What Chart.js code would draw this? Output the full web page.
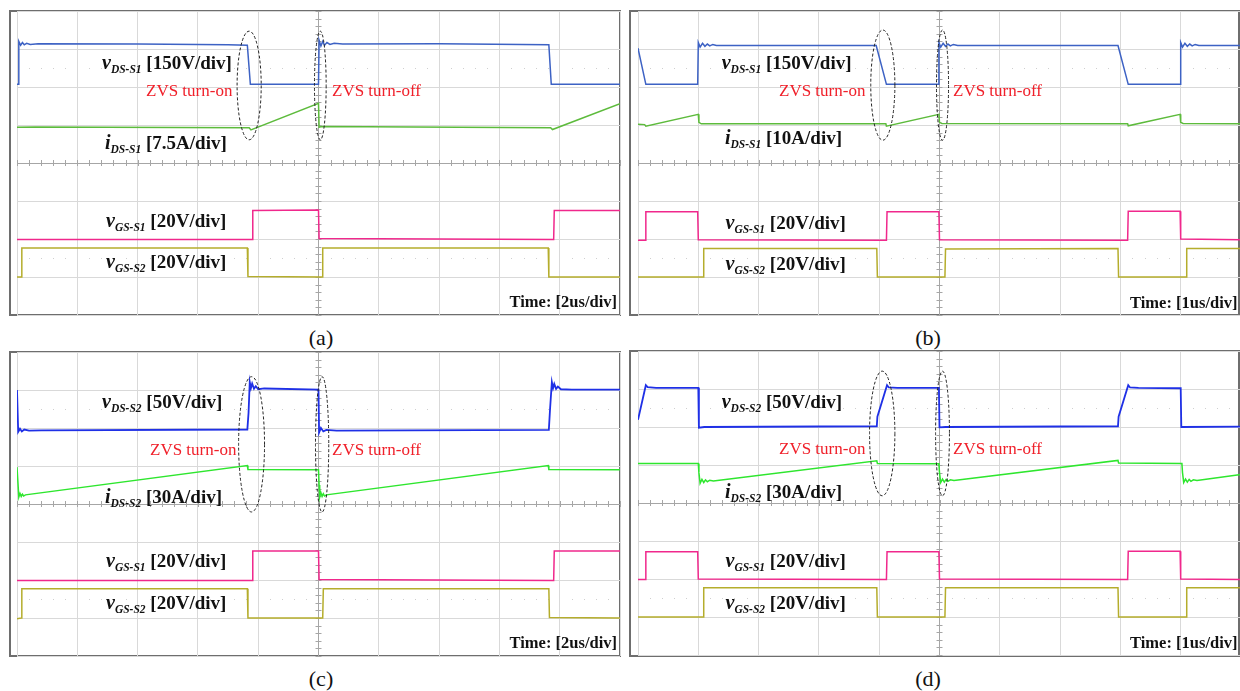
<!DOCTYPE html>
<html>
<head>
<meta charset="utf-8">
<title>ZVS waveforms</title>
<script src="https://cdn.jsdelivr.net/npm/chart.js@4.4.1/dist/chart.umd.min.js"></script>
<style>
html, body { margin: 0; padding: 0; background: #fff; overflow: hidden; }
body { width: 1240px; height: 691px; position: relative; font-family: "Liberation Serif", "Times New Roman", serif; }
.frame { position: absolute; box-sizing: border-box; border: 2px solid #6e6e6e; }
canvas { position: absolute; }
.txt { position: absolute; white-space: nowrap; }
.sig { font-weight: bold; font-size: 19px; line-height: 22px; color: #111; }
.sig i { font-size: 20px; line-height: 0; }
.sig sub { font-size: 11.5px; font-style: italic; line-height: 0; vertical-align: -4px; }
.zvs { font-size: 17px; line-height: 20px; color: #f0202a; }
.time { font-weight: bold; font-size: 16.5px; line-height: 19px; color: #111; }
.cap { font-size: 22px; line-height: 26px; color: #111; }
</style>
</head>
<body>
<script>
// scope screen: 10 x 8 divisions, y counted in divisions from the top
const xDivs = 10;
const yDivs = 8;

const captions = ['(a)', '(b)', '(c)', '(d)'];
const timeBases = ['2us', '1us', '2us', '1us'];

const aNames = [['v', 'DS-S1', '[150V/div]'], ['i', 'DS-S1', '[7.5A/div]'], ['v', 'GS-S1', '[20V/div]'], ['v', 'GS-S2', '[20V/div]']];
const bNames = [['v', 'DS-S1', '[150V/div]'], ['i', 'DS-S1', '[10A/div]'], ['v', 'GS-S1', '[20V/div]'], ['v', 'GS-S2', '[20V/div]']];
const cNames = [['v', 'DS-S2', '[50V/div]'], ['i', 'DS-S2', '[30A/div]'], ['v', 'GS-S1', '[20V/div]'], ['v', 'GS-S2', '[20V/div]']];
const dNames = [['v', 'DS-S2', '[50V/div]'], ['i', 'DS-S2', '[30A/div]'], ['v', 'GS-S1', '[20V/div]'], ['v', 'GS-S2', '[20V/div]']];

// (a) S1, 2us/div
const aVds = [[0, 1.93], [0.02, 1.93], [0.03, 0.80], [0.06, 0.90], [0.09, 0.83], [0.12, 0.89], [0.16, 0.85], [0.22, 0.88], [0.35, 0.86],
    [2.0, 0.87], [3.5, 0.89], [3.82, 0.90], [3.87, 1.93], [5.0, 1.93], [5.01, 0.77], [5.04, 0.92], [5.07, 0.80], [5.10, 0.90],
    [5.14, 0.83], [5.19, 0.88], [5.26, 0.85], [5.4, 0.87], [7.0, 0.86], [8.82, 0.89], [8.86, 1.93], [10, 1.93]];
const aIds = [[0, 3.06], [0.3, 3.05], [3.85, 3.07], [3.88, 3.13], [5.0, 2.43], [5.01, 3.06], [5.05, 3.04], [8.85, 3.07], [8.88, 3.12], [10, 2.44]];
const aVgs1 = [[0, 6.01], [3.9, 6.01], [3.91, 5.25], [5.0, 5.24], [5.01, 5.99], [8.9, 6.01], [8.91, 5.25], [10, 5.25]];
const aVgs2 = [[0, 7.0], [0.07, 7.0], [0.08, 6.24], [3.82, 6.24], [3.83, 6.99], [5.06, 7.0], [5.07, 6.24], [8.81, 6.24], [8.82, 7.0], [10, 7.0]];

// (b) S1, 1us/div
const bVds = [[0, 0.98], [0.13, 1.93], [0.99, 1.93], [1.0, 0.83], [1.03, 0.95], [1.07, 0.85], [1.11, 0.93], [1.15, 0.87], [1.19, 0.92],
    [1.24, 0.88], [1.3, 0.91], [3.95, 0.91], [4.12, 1.93], [4.98, 1.93], [4.99, 0.83], [5.02, 0.95], [5.06, 0.85], [5.1, 0.93],
    [5.14, 0.87], [5.18, 0.92], [5.23, 0.88], [5.3, 0.91], [7.96, 0.91], [8.13, 1.93], [8.99, 1.93], [9.0, 0.83], [9.03, 0.95],
    [9.07, 0.85], [9.11, 0.93], [9.15, 0.87], [9.19, 0.92], [9.24, 0.88], [9.3, 0.91], [10, 0.91]];
const bIds = [[0, 2.98], [0.11, 2.99], [0.13, 3.03], [1.0, 2.72], [1.01, 2.93], [1.05, 2.97], [4.11, 2.97], [4.12, 3.03], [4.99, 2.72],
    [5.0, 2.93], [5.04, 2.96], [8.12, 2.97], [8.13, 3.02], [8.99, 2.72], [9.0, 2.93], [9.04, 2.96], [10, 2.97]];
const bVgs1 = [[0, 6.03], [0.12, 6.03], [0.13, 5.28], [0.99, 5.28], [1.0, 6.02], [4.12, 6.03], [4.13, 5.28], [4.99, 5.28], [5.0, 6.02],
    [8.12, 6.03], [8.13, 5.27], [8.99, 5.27], [9.0, 6.0], [10, 6.02]];
const bVgs2 = [[0, 7.0], [1.08, 7.0], [1.09, 6.25], [3.96, 6.25], [3.97, 7.0], [5.09, 7.0], [5.1, 6.26], [7.96, 6.25], [7.97, 7.0],
    [9.09, 7.0], [9.1, 6.25], [10, 6.25]];

// (c) S2, 2us/div
const cVds = [[0, 1.0], [0.01, 1.0], [0.02, 2.1], [0.05, 2.02], [0.08, 2.09], [0.12, 2.04], [0.2, 2.07], [0.4, 2.06], [3.82, 2.04],
    [3.84, 1.6], [3.86, 0.79], [3.88, 0.95], [3.9, 0.83], [3.93, 0.97], [3.96, 0.9], [4.0, 0.98], [4.1, 0.96], [5.0, 0.99],
    [5.01, 2.12], [5.04, 2.0], [5.08, 2.09], [5.13, 2.05], [5.3, 2.07], [8.82, 2.05], [8.84, 1.5], [8.87, 0.79], [8.89, 0.95],
    [8.91, 0.84], [8.94, 0.97], [8.97, 0.91], [9.02, 0.98], [9.2, 0.99], [10, 0.99]];
const cIds = [[0, 3.03], [0.01, 3.03], [0.03, 3.82], [0.05, 3.72], [0.07, 3.8], [0.09, 3.74], [0.11, 3.79], [0.14, 3.76], [3.82, 2.99],
    [3.83, 3.09], [5.0, 3.1], [5.01, 3.5], [5.02, 3.82], [5.04, 3.7], [5.06, 3.8], [5.08, 3.73], [5.1, 3.79], [5.13, 3.76],
    [8.81, 2.99], [8.82, 3.09], [10, 3.1]];
const cVgs1 = [[0, 6.01], [3.9, 6.01], [3.91, 5.24], [5.0, 5.24], [5.01, 5.99], [8.9, 6.01], [8.91, 5.24], [10, 5.24]];
const cVgs2 = [[0, 7.02], [0.07, 7.0], [0.08, 6.23], [3.82, 6.23], [3.83, 7.0], [5.07, 7.0], [5.08, 6.23], [8.82, 6.23], [8.83, 6.99], [10, 7.0]];

// (d) S2, 1us/div
const dVds = [[0, 1.81], [0.13, 0.9], [0.16, 0.95], [0.3, 0.97], [1.0, 0.97], [1.01, 2.02], [1.1, 2.0], [3.96, 1.98], [3.97, 1.73],
    [4.13, 0.9], [4.16, 0.96], [4.3, 0.97], [4.99, 0.97], [5.0, 2.01], [5.1, 2.0], [7.96, 1.98], [7.97, 1.73], [8.13, 0.9],
    [8.16, 0.96], [8.3, 0.97], [9.0, 0.98], [9.01, 2.0], [10, 1.99]];
const dIds = [[0, 2.96], [1.0, 2.96], [1.01, 3.2], [1.03, 3.48], [1.06, 3.38], [1.09, 3.46], [1.12, 3.39], [1.15, 3.44], [1.19, 3.4],
    [1.25, 3.42], [3.96, 2.89], [3.97, 2.96], [4.99, 2.97], [5.0, 3.2], [5.02, 3.46], [5.05, 3.37], [5.08, 3.45], [5.11, 3.38],
    [5.14, 3.43], [5.18, 3.39], [5.24, 3.41], [7.96, 2.88], [7.97, 2.95], [9.02, 2.96], [9.03, 3.2], [9.05, 3.46], [9.08, 3.37],
    [9.11, 3.45], [9.14, 3.38], [9.17, 3.43], [9.21, 3.39], [9.27, 3.41], [10, 3.25]];
const dVgs1 = [[0, 6.01], [0.12, 6.01], [0.13, 5.28], [0.99, 5.28], [1.0, 6.0], [4.12, 6.01], [4.13, 5.28], [4.99, 5.28], [5.0, 6.0],
    [8.12, 6.01], [8.13, 5.27], [8.99, 5.27], [9.0, 6.0], [10, 6.01]];
const dVgs2 = [[0, 7.0], [1.08, 7.0], [1.09, 6.23], [3.96, 6.23], [3.97, 7.0], [5.09, 7.0], [5.1, 6.23], [7.96, 6.23], [7.97, 7.0],
    [9.09, 7.0], [9.1, 6.23], [10, 6.23]];

const PLOT_W = 603;
const PLOT_H = 304;
const PAD = 2;

const panels = [
    {
        traces: [aVds, aIds, aVgs1, aVgs2], names: aNames,
        colors: ['#3d62c4', '#5dbb3c', '#f0288c', '#b5ad2c'], widths: [1.5, 1.5, 1.5, 1.5],
        plot: [17.3, 11], frame: [9, 10, 612, 306],
        ellipses: [[3.85, 1.96, 0.2, 1.43], [5.03, 1.96, 0.097, 1.43]],
        names_at: [[102, 69], [105, 149], [106, 227], [106, 268]],
        zvs: [[146, 96.5], [332, 96.5]], time: [617, 307.5], cap: [321, 345]
    },
    {
        traces: [bVds, bIds, bVgs1, bVgs2], names: bNames,
        colors: ['#3d62c4', '#5dbb3c', '#f0288c', '#b5ad2c'], widths: [1.5, 1.5, 1.5, 1.5],
        plot: [638.3, 11], frame: [629, 10, 611, 306],
        ellipses: [[4.06, 1.95, 0.2, 1.45], [5.05, 1.95, 0.1, 1.45]],
        names_at: [[721.7, 69.5], [725, 144.5], [725.5, 229], [725.5, 270.5]],
        zvs: [[779, 96.5], [953, 96.5]], time: [1237.5, 308], cap: [928, 345]
    },
    {
        traces: [cVds, cIds, cVgs1, cVgs2], names: cNames,
        colors: ['#1f30e6', '#2ee62e', '#f0288c', '#b5ad2c'], widths: [1.8, 1.5, 1.5, 1.5],
        plot: [17.3, 351.7], frame: [9, 350.7, 612, 306.3],
        ellipses: [[3.89, 2.43, 0.215, 1.78], [5.06, 2.43, 0.11, 1.78]],
        names_at: [[102, 408.5], [105, 503.5], [106, 567.5], [106, 609]],
        zvs: [[150, 455.5], [332, 455.5]], time: [617, 648], cap: [321, 686]
    },
    {
        traces: [dVds, dIds, dVgs1, dVgs2], names: dNames,
        colors: ['#1f30e6', '#2ee62e', '#f0288c', '#b5ad2c'], widths: [1.8, 1.5, 1.5, 1.5],
        plot: [638.3, 351.4], frame: [629, 350.4, 611, 306.6],
        ellipses: [[4.05, 2.17, 0.21, 1.64], [5.05, 2.17, 0.115, 1.64]],
        names_at: [[721.7, 408.5], [725, 498], [725.5, 567.5], [725.5, 609]],
        zvs: [[779, 455], [953, 455]], time: [1237.5, 648], cap: [928, 686]
    }
];

function putText(html, cls, x, base, size, lh, align) {
    const el = document.createElement('div');
    el.className = 'txt ' + cls;
    el.innerHTML = html;
    el.style.left = x + 'px';
    el.style.top = (base - (0.891 * size + (lh - 1.107 * size) / 2)) + 'px';
    if (align === 'right') el.style.transform = 'translateX(-100%)';
    if (align === 'center') el.style.transform = 'translateX(-50%)';
    document.body.appendChild(el);
}

// minor ticks on the centre cross, faint dots, dashed ellipses
const scopeDecor = {
    id: 'scopeDecor',
    beforeDatasetsDraw(chart) {
        const { ctx, scales: { x, y } } = chart;
        const cx = x.getPixelForValue(xDivs / 2);
        const cy = y.getPixelForValue(yDivs / 2);
        ctx.save();
        ctx.strokeStyle = '#a6a6a6';
        ctx.lineWidth = 1;
        ctx.beginPath();
        for (let i = 0; i <= xDivs * 5; i++) {
            const px = Math.round(x.getPixelForValue(i / 5)) + 0.5;
            ctx.moveTo(px, cy - 3);
            ctx.lineTo(px, cy + 3);
        }
        for (let i = 0; i <= yDivs * 5; i++) {
            const py = Math.round(y.getPixelForValue(i / 5)) + 0.5;
            ctx.moveTo(cx - 3, py);
            ctx.lineTo(cx + 3, py);
        }
        ctx.stroke();
        ctx.fillStyle = '#cfcfcf';
        [1.5, 6.5].forEach((row) => {
            const py = y.getPixelForValue(row);
            for (let i = 1; i < xDivs * 5; i++) {
                if (i % 5 === 0) continue;
                ctx.fillRect(Math.round(x.getPixelForValue(i / 5)), Math.round(py), 1, 1);
            }
        });
        ctx.restore();
    },
    afterDatasetsDraw(chart, args, opts) {
        const { ctx, scales: { x, y } } = chart;
        const sx = x.getPixelForValue(1) - x.getPixelForValue(0);
        const sy = Math.abs(y.getPixelForValue(1) - y.getPixelForValue(0));
        ctx.save();
        ctx.strokeStyle = '#222';
        ctx.lineWidth = 1;
        ctx.setLineDash([3, 2]);
        (opts.ellipses || []).forEach(([ex, ey, rx, ry]) => {
            ctx.beginPath();
            ctx.ellipse(x.getPixelForValue(ex), y.getPixelForValue(ey), rx * sx, ry * sy, 0, 0, Math.PI * 2);
            ctx.stroke();
        });
        ctx.restore();
    }
};

function gridColor(ctx, centre) {
    return ctx.tick && ctx.tick.value === centre ? '#a6a6a6' : '#d9d9d9';
}

panels.forEach((p, idx) => {
    const frame = document.createElement('div');
    frame.className = 'frame';
    frame.style.left = p.frame[0] + 'px';
    frame.style.top = p.frame[1] + 'px';
    frame.style.width = p.frame[2] + 'px';
    frame.style.height = p.frame[3] + 'px';
    document.body.appendChild(frame);

    const canvas = document.createElement('canvas');
    canvas.width = PLOT_W + PAD * 2;
    canvas.height = PLOT_H + PAD * 2;
    canvas.style.left = (p.plot[0] - PAD) + 'px';
    canvas.style.top = (p.plot[1] - PAD) + 'px';
    document.body.appendChild(canvas);

    new Chart(canvas.getContext('2d'), {
        type: 'line',
        data: {
            datasets: p.traces.map((trace, i) => ({
                label: p.names[i][0] + p.names[i][1],
                data: trace,
                borderColor: p.colors[i],
                borderWidth: p.widths[i],
                pointRadius: 0,
                tension: 0,
                fill: false
            }))
        },
        options: {
            responsive: false,
            animation: false,
            events: [],
            layout: { padding: PAD },
            scales: {
                x: {
                    type: 'linear', min: 0, max: xDivs,
                    ticks: { display: false, stepSize: 1 },
                    grid: { drawTicks: false, color: (c) => gridColor(c, xDivs / 2) },
                    border: { display: false }
                },
                y: {
                    type: 'linear', min: 0, max: yDivs, reverse: true,
                    ticks: { display: false, stepSize: 1 },
                    grid: { drawTicks: false, color: (c) => gridColor(c, yDivs / 2) },
                    border: { display: false }
                }
            },
            plugins: {
                legend: { display: false },
                tooltip: { enabled: false },
                scopeDecor: { ellipses: p.ellipses }
            }
        },
        plugins: [scopeDecor]
    });

    p.names.forEach((n, i) => {
        putText('<i>' + n[0] + '</i><sub>' + n[1] + '</sub> ' + n[2], 'sig', p.names_at[i][0], p.names_at[i][1], 19, 22);
    });
    putText('ZVS turn-on', 'zvs', p.zvs[0][0], p.zvs[0][1], 17, 20);
    putText('ZVS turn-off', 'zvs', p.zvs[1][0], p.zvs[1][1], 17, 20);
    putText('Time: [' + timeBases[idx] + '/div]', 'time', p.time[0], p.time[1], 16.5, 19, 'right');
    putText(captions[idx], 'cap', p.cap[0], p.cap[1], 22, 26, 'center');
});
</script>
</body>
</html>
